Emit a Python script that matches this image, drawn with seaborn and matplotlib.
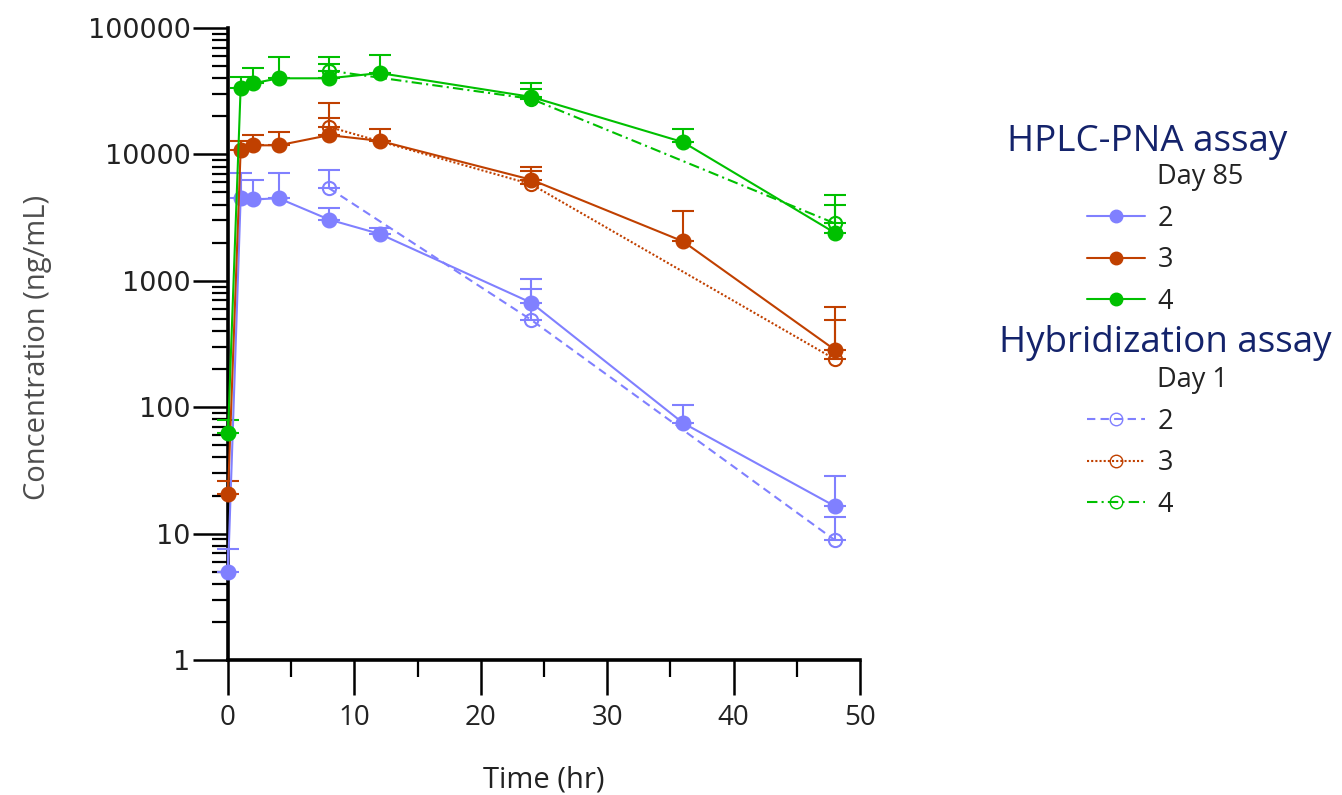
import numpy as np
import pandas as pd
import matplotlib
matplotlib.use("Agg")
import matplotlib.pyplot as plt
import seaborn as sns
from matplotlib.lines import Line2D
from matplotlib.ticker import FixedLocator, MultipleLocator, LogLocator, NullFormatter

sns.set_style("white")
plt.rcParams['font.family'] = ['Open Sans', 'DejaVu Sans']

# ---------------- data ----------------
doses = ["2", "3", "4"]
hplc_times = [0, 1, 2, 4, 8, 12, 24, 36, 48]
hplc_2 = [5.0, 4500, 4400, 4500, 3050, 2350, 670, 75, 16.5]
hplc_2_upper = [7.5, 7100, 6300, 7100, 3800, 2600, 1030, 104, 28.5]
hplc_3 = [20.5, 10800, 11800, 11800, 14200, 12800, 6300, 2050, 285]
hplc_3_upper = [26, 12800, 14200, 15000, 25500, 15800, 7900, 3560, 620]
hplc_4 = [62, 33500, 36500, 40000, 40000, 44000, 28500, 12500, 2400]
hplc_4_upper = [79, 41000, 48000, 59000, 59000, 61000, 36500, 15800, 4750]

hyb_times = [8, 24, 48]
hyb_2 = [5400, 490, 8.9]
hyb_2_upper = [7500, 860, 13.5]
hyb_3 = [16500, 5800, 240]
hyb_3_upper = [19400, 7400, 490]
hyb_4 = [46000, 27500, 2850]
hyb_4_upper = [52000, 33000, 3970]

colors = {"2": "#8080ff", "3": "#c04000", "4": "#00c000"}
hyb_styles = {"2": (0, (4, 2.5)), "3": (0, (1, 1)), "4": (0, (5, 2, 1, 2))}

y_ticks = [1, 10, 100, 1000, 10000, 100000]
y_tick_labels = ["1", "10", "100", "1000", "10000", "100000"]
x_ticks = [0, 10, 20, 30, 40, 50]
x_tick_labels = ["0", "10", "20", "30", "40", "50"]

hplc = {"2": (hplc_2, hplc_2_upper), "3": (hplc_3, hplc_3_upper), "4": (hplc_4, hplc_4_upper)}
hyb = {"2": (hyb_2, hyb_2_upper), "3": (hyb_3, hyb_3_upper), "4": (hyb_4, hyb_4_upper)}

# ---------------- figure ----------------
W, H = 1342, 795
fig = plt.figure(figsize=(W / 100, H / 100), dpi=100)
ax = fig.add_axes([228 / W, 1 - 660 / H, (860 - 228) / W, (660 - 28) / H])

lw = 1.5
ms_fill = 10.5
ms_open = 9.5

# hybridization (open, patterned) first
for d in doses:
    vals, up = hyb[d]
    c = colors[d]
    ax.errorbar(hyb_times, vals, yerr=[np.zeros(len(vals)), np.array(up) - np.array(vals)],
                fmt='none', ecolor=c, elinewidth=1.5, capsize=8, capthick=1.5, zorder=2, clip_on=False)
    sns.lineplot(x=hyb_times, y=vals, ax=ax, color=c, linestyle=hyb_styles[d], linewidth=lw,
                 marker='o', markersize=ms_open, markerfacecolor='none', markeredgecolor=c,
                 markeredgewidth=1.5, legend=False, sort=False, zorder=3, clip_on=False)

for d in doses:
    vals, up = hplc[d]
    c = colors[d]
    ax.errorbar(hplc_times, vals, yerr=[np.zeros(len(vals)), np.array(up) - np.array(vals)],
                fmt='none', ecolor=c, elinewidth=1.5, capsize=8, capthick=1.5, zorder=4, clip_on=False)
    sns.lineplot(x=hplc_times, y=vals, ax=ax, color=c, linestyle='-', linewidth=lw,
                 marker='o', markersize=ms_fill, markerfacecolor=c, markeredgecolor=c,
                 markeredgewidth=1.0, legend=False, sort=False, zorder=5, clip_on=False)

ax.set_yscale('log')
ax.set_ylim(1, 100000)
ax.set_xlim(0, 50)

ax.set_yticks(y_ticks, labels=y_tick_labels, fontsize=19.5, fontfamily='DejaVu Sans', color='#222222')
ax.yaxis.set_minor_locator(LogLocator(base=10, subs=np.arange(2, 10)))
ax.yaxis.set_minor_formatter(NullFormatter())
ax.set_xticks(x_ticks, labels=x_tick_labels, fontsize=20, color='#222222')
ax.xaxis.set_minor_locator(MultipleLocator(5))

for s in ['top', 'right']:
    ax.spines[s].set_visible(False)
for s in ['left', 'bottom']:
    ax.spines[s].set_linewidth(2.6)
    ax.spines[s].set_color('black')
    ax.spines[s].set_zorder(1)

ax.tick_params(axis='y', which='major', direction='out', length=25, width=1.8, color='black',
               pad=2, left=True)
ax.tick_params(axis='y', which='minor', direction='out', length=11.5, width=1.6, color='black', left=True)
ax.tick_params(axis='x', which='major', direction='out', length=25, width=1.8, color='black',
               pad=7, bottom=True)
ax.tick_params(axis='x', which='minor', direction='out', length=12.5, width=1.6, color='black', bottom=True)

ax.set_xlabel("Time (hr)", fontsize=21, color='#222222', labelpad=24)
ax.set_ylabel("")
fig.text(38 / W, 1 - 347 / H, "Concentration (ng/mL)", rotation=90, ha='center', va='center',
         fontsize=21, color='#4d4d4d')

# ---------------- legend ----------------
navy = '#14236b'
fig.text(1147 / W, 1 - 142 / H, "HPLC-PNA assay", ha='center', va='center', fontsize=26.5, color=navy)
fig.text(1165 / W, 1 - 343 / H, "Hybridization assay", ha='center', va='center', fontsize=26.5, color=navy)

blank = Line2D([], [], linestyle='none', marker=None)
h1 = [blank] + [Line2D([], [], color=colors[d], linestyle='-', linewidth=lw, marker='o',
                       markersize=9, markerfacecolor=colors[d], markeredgecolor=colors[d]) for d in doses]
h2 = [blank] + [Line2D([], [], color=colors[d], linestyle=hyb_styles[d], linewidth=lw, marker='o',
                       markersize=9, markerfacecolor='none', markeredgecolor=colors[d]) for d in doses]

leg_kw = dict(frameon=False, fontsize=19.5, handlelength=2.15, handletextpad=0.45, labelspacing=0.5,
              borderpad=0, borderaxespad=0, loc='upper left', labelcolor='#222222')
leg1 = fig.legend(h1, ["Day 85"] + doses, bbox_to_anchor=(1087 / W, 1 - 163 / H), **leg_kw)
leg2 = fig.legend(h2, ["Day 1"] + doses, bbox_to_anchor=(1087 / W, 1 - 366 / H), **leg_kw)

fig.savefig("out.png", dpi=100)
